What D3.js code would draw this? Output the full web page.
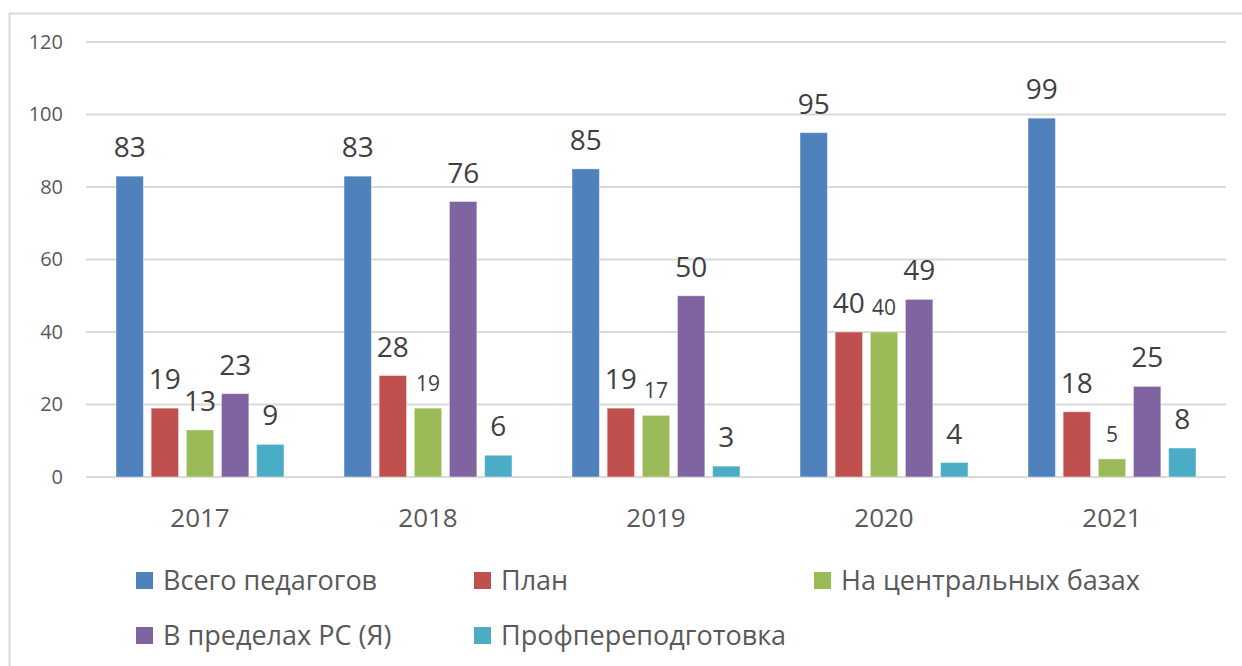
<!DOCTYPE html>
<html>
<head>
<meta charset="utf-8">
<script src="https://cdn.jsdelivr.net/npm/d3@7"></script>
<style>
  body { margin: 0; background: #fff; }
  svg { display: block; font-family: "Open Sans", "Noto Sans", sans-serif; }
</style>
</head>
<body>
<svg id="chart" width="1242" height="666"></svg>
<script>
// Data
var years = ["2017", "2018", "2019", "2020", "2021"];
var seriesNames = ["Всего педагогов", "План", "На центральных базах", "В пределах РС (Я)", "Профпереподготовка"];
var total   = [83, 83, 85, 95, 99];
var plan    = [19, 28, 19, 40, 18];
var central = [13, 19, 17, 40, 5];
var region  = [23, 76, 50, 49, 25];
var retrain = [9, 6, 3, 4, 8];
var yTicks = [0, 20, 40, 60, 80, 100, 120];
// labels drawn in the smaller font (series index, year)
var smallLabels = ["2|2018", "2|2019", "2|2020", "2|2021"];

var colors = ["#4f81bd", "#c0504d", "#9bbb59", "#8064a2", "#4bacc6"];
var values = [total, plan, central, region, retrain];

var svg = d3.select("#chart"),
	W = +svg.attr("width"),
	H = +svg.attr("height");

// outer frame
svg.append("rect")
	.attr("x", 9.5).attr("y", 13.5)
	.attr("width", W + 20).attr("height", H + 20)
	.attr("fill", "none")
	.attr("stroke", "#d9d9d9")
	.attr("stroke-width", 2);

var plot = {left: 86, right: 1226, top: 42, bottom: 477};

var x = d3.scaleBand()
	.domain(years)
	.range([plot.left, plot.right])
	.paddingInner(0)
	.paddingOuter(0);

var x1 = d3.scaleBand()
	.domain(d3.range(seriesNames.length))
	.range([30, x.bandwidth() - 30])
	.paddingInner(0.22)
	.paddingOuter(0);

var y = d3.scaleLinear()
	.domain([0, 120])
	.range([plot.bottom, plot.top]);

// gridlines
svg.append("g")
	.selectAll("line")
	.data(yTicks)
	.enter().append("line")
	.attr("x1", plot.left).attr("x2", plot.right)
	.attr("y1", function(d) { return y(d); })
	.attr("y2", function(d) { return y(d); })
	.attr("stroke", "#d9d9d9")
	.attr("stroke-width", 2);

// y axis labels
var yAxis = d3.axisLeft(y).tickValues(yTicks).tickSize(0).tickPadding(0);
var yg = svg.append("g")
	.attr("transform", "translate(63,0)")
	.call(yAxis);
yg.select(".domain").remove();
yg.selectAll("text")
	.attr("fill", "#595959")
	.style("font-size", "20px")
	.style("font-family", "'Open Sans', 'Noto Sans', sans-serif");

// x axis labels
var xAxis = d3.axisBottom(x).tickSize(0).tickPadding(0);
var xg = svg.append("g")
	.attr("transform", "translate(0," + plot.bottom + ")")
	.call(xAxis);
xg.select(".domain").remove();
xg.selectAll("text")
	.attr("y", 0)
	.attr("dy", 0)
	.attr("transform", "translate(0,50)")
	.attr("fill", "#595959")
	.style("font-size", "26px")
	.style("font-family", "'Open Sans', 'Noto Sans', sans-serif");

// bars
var points = [];
years.forEach(function(yr, i) {
	values.forEach(function(arr, s) {
		points.push({year: yr, s: s, v: arr[i], small: smallLabels.indexOf(s + "|" + yr) >= 0});
	});
});

var bars = svg.append("g");
bars.selectAll("rect")
	.data(points)
	.enter().append("rect")
	.attr("x", function(d) { return x(d.year) + x1(d.s); })
	.attr("y", function(d) { return y(d.v); })
	.attr("width", x1.bandwidth())
	.attr("height", function(d) { return y(0) - y(d.v); })
	.attr("fill", function(d) { return colors[d.s]; })
	.attr("stroke", "#ffffff")
	.attr("stroke-opacity", 0.45)
	.attr("stroke-width", 1);

// value labels
svg.append("g")
	.selectAll("text")
	.data(points)
	.enter().append("text")
	.attr("x", function(d) { return x(d.year) + x1(d.s) + x1.bandwidth() / 2; })
	.attr("y", function(d) { return y(d.v) - (d.small ? 17 : 19); })
	.attr("text-anchor", "middle")
	.attr("fill", "#404040")
	.style("font-size", function(d) { return d.small ? "21px" : "28px"; })
	.text(function(d) { return d.v; });

// legend
var legendPos = [[136, 572], [474, 572], [814, 572], [136, 627], [474, 627]];
var legend = svg.append("g")
	.selectAll("g")
	.data(seriesNames)
	.enter().append("g")
	.attr("transform", function(d, i) { return "translate(" + legendPos[i][0] + "," + legendPos[i][1] + ")"; });
legend.append("rect")
	.attr("width", 17).attr("height", 17)
	.attr("fill", function(d, i) { return colors[i]; });
legend.append("text")
	.attr("x", 27).attr("y", 18)
	.attr("fill", "#595959")
	.style("font-size", "27px")
	.text(function(d) { return d; });
</script>
</body>
</html>
